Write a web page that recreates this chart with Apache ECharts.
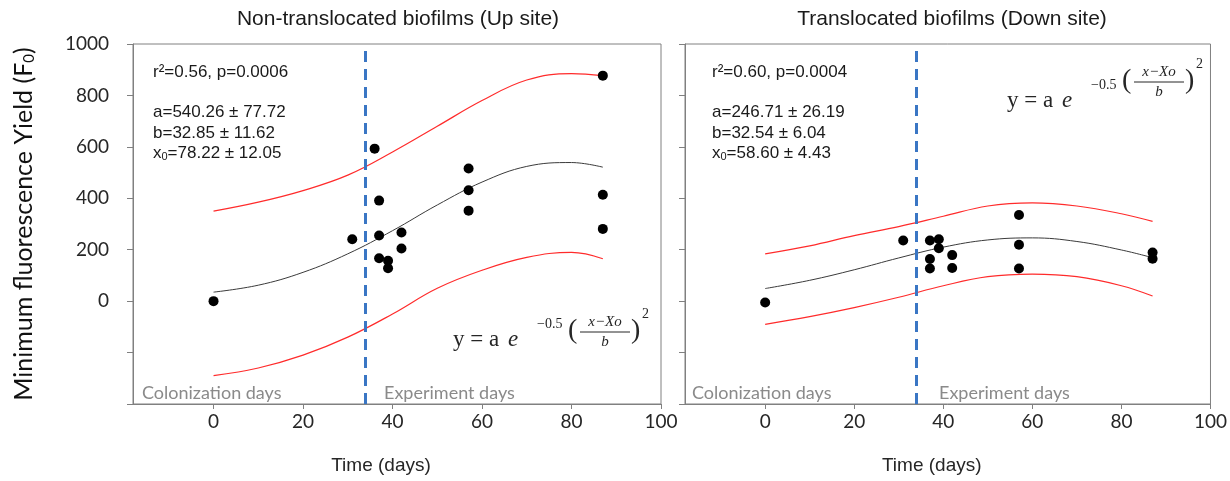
<!DOCTYPE html>
<html>
<head>
<meta charset="utf-8">
<script src="https://cdn.jsdelivr.net/npm/echarts@6/dist/echarts.min.js"></script>
<style>
  html, body { margin: 0; padding: 0; background: #fff; }
  #chart { width: 1230px; height: 481px; }
</style>
</head>
<body>
<div id="chart"></div>
<script>
// x tick labels (days) and the split between colonization / experiment
const dayTicks = [0, 20, 40, 60, 80, 100]
const splitDay = 34

// Up site (non-translocated) points
const upDays = [0, 31, 36, 37, 37, 37, 39, 39, 42, 42, 57, 57, 57, 87, 87, 87]
const upValues = [0, 241, 593, 391, 255, 167, 157, 128, 267, 205, 516, 431, 352, 877, 414, 281]

// Down site (translocated) points
const downDays = [0, 31, 37, 37, 37, 39, 39, 42, 42, 57, 57, 57, 87, 87]
const downValues = [-5, 236, 236, 164, 127, 241, 206, 179, 129, 335, 219, 127, 189, 165]

// curves (fit + band)
const curveDays = [0, 10, 20, 30, 40, 50, 60, 70, 80, 87]
const upFit = [35, 62, 112, 184, 274, 374, 463, 524, 539, 521]
const upUpper = [350, 385, 430, 490, 580, 680, 780, 860, 885, 877]
const upLower = [-290, -260, -210, -140, -50, 50, 120, 170, 190, 165]
const downFit = [49, 81, 122, 168, 210, 238, 246, 232, 199, 169]
const downUpper = [184, 215, 255, 290, 330, 370, 382, 370, 340, 310]
const downLower = [-90, -60, -25, 15, 60, 95, 105, 95, 60, 20]

const pairs = (xs, ys) => xs.map((x, i) => [x, ys[i]])

const chart = echarts.init(document.getElementById('chart'))

const gray = '#808080'
const red = '#ff2b2b'
const tickFont = 'Lato'

function xAxisFor(idx) {
  return {
    type: 'value',
    gridIndex: idx,
    min: -18,
    max: 100,
    axisLine: { show: true, onZero: false, lineStyle: { color: gray, width: 1 } },
    axisTick: { show: true, customValues: dayTicks, length: 5, lineStyle: { color: gray } },
    axisLabel: { customValues: dayTicks, fontFamily: tickFont, fontSize: 19, color: '#262626', margin: 8 },
    splitLine: { show: false },
    name: 'Time (days)',
    nameLocation: 'middle',
    nameGap: 52,
    nameTextStyle: { fontFamily: 'Liberation Sans', fontSize: 19, color: '#262626', padding: [0, 32, 0, 0] }
  }
}

function yAxisFor(idx) {
  const ax = {
    type: 'value',
    gridIndex: idx,
    min: -400,
    max: 1000,
    interval: 200,
    axisLine: { show: true, onZero: false, lineStyle: { color: gray, width: 1 } },
    axisTick: { show: true, length: 6, lineStyle: { color: gray } },
    axisLabel: {
      show: idx === 0,
      fontFamily: tickFont, fontSize: 19, color: '#262626', margin: 24,
      formatter: v => (v >= 0 ? String(v) : '')
    },
    splitLine: { show: false }
  }
  if (idx === 0) {
    ax.name = 'Minimum fluorescence Yield (F{sub|0})'
    ax.nameLocation = 'middle'
    ax.nameGap = 96
    ax.nameTextStyle = {
      fontFamily: tickFont, fontSize: 25, color: '#111',
      rich: { sub: { fontFamily: tickFont, fontSize: 15, color: '#111', verticalAlign: 'bottom', padding: [11, 0, 0, 0] } }
    }
  }
  return ax
}

function curve(idx, ys, color, width) {
  return {
    type: 'line',
    xAxisIndex: idx, yAxisIndex: idx,
    data: pairs(curveDays, ys),
    smooth: 0.4,
    showSymbol: false,
    lineStyle: { color: color, width: width },
    silent: true,
    z: 2
  }
}

function splitLine(idx) {
  return {
    type: 'line',
    xAxisIndex: idx, yAxisIndex: idx,
    data: [],
    markLine: {
      silent: true,
      symbol: ['none', 'none'],
      label: { show: false },
      lineStyle: { color: '#3a76c4', width: 3, type: [11, 7] },
      data: [{ xAxis: splitDay }]
    }
  }
}

function dots(idx, xs, ys) {
  return {
    type: 'scatter',
    xAxisIndex: idx, yAxisIndex: idx,
    data: pairs(xs, ys),
    symbolSize: 10,
    itemStyle: { color: '#000', opacity: 1 },
    z: 5
  }
}

// stats block text
function stats(x, r2, a, b, x0) {
  const base = { font: '17px "Liberation Sans"', fill: '#1a1a1a', verticalAlign: 'middle' }
  const rich = {
    n: { fontFamily: 'Liberation Sans', fontSize: 17, color: '#1a1a1a' },
    s: { fontFamily: 'Liberation Sans', fontSize: 11, color: '#1a1a1a', verticalAlign: 'bottom', padding: [7, 0, 0, 0] }
  }
  return [
    { type: 'text', x: x, y: 72, style: Object.assign({ text: r2 }, base) },
    { type: 'text', x: x, y: 112, style: Object.assign({ text: a }, base) },
    { type: 'text', x: x, y: 133, style: Object.assign({ text: b }, base) },
    { type: 'text', x: x, y: 153, style: Object.assign({ text: '{n|x}{s|0}{n|' + x0 + '}', rich: rich }, base) }
  ]
}

// y = a e^{-0.5((x-Xo)/b)^2}
function formula(ox, oy, fy) {
  const c = '#262626'
  const serif = '"Liberation Serif"'
  const bar = oy - 15 + fy
  return [
    { type: 'text', x: ox, y: oy - 7, style: { text: 'y = a', font: '23px ' + serif, fill: c, verticalAlign: 'middle' } },
    { type: 'text', x: ox + 55, y: oy - 7, style: { text: 'e', font: 'italic 23px ' + serif, fill: c, verticalAlign: 'middle' } },
    { type: 'text', x: ox + 84, y: oy - 23, style: { text: '\u22120.5', font: '14px ' + serif, fill: c, verticalAlign: 'middle' } },
    { type: 'text', x: ox + 115, y: bar - 1, style: { text: '(', font: '28px ' + serif, fill: c, verticalAlign: 'middle' } },
    { type: 'text', x: ox + 152, y: oy - 25 + fy, style: { text: 'x\u2212Xo', font: 'italic 15px ' + serif, fill: c, align: 'center', verticalAlign: 'middle' } },
    { type: 'line', shape: { x1: ox + 127, y1: bar, x2: ox + 177, y2: bar }, style: { stroke: c, lineWidth: 1 } },
    { type: 'text', x: ox + 152, y: oy - 5 + fy, style: { text: 'b', font: 'italic 15px ' + serif, fill: c, align: 'center', verticalAlign: 'middle' } },
    { type: 'text', x: ox + 178, y: bar - 1, style: { text: ')', font: '28px ' + serif, fill: c, verticalAlign: 'middle' } },
    { type: 'text', x: ox + 189, y: oy - 33 + fy, style: { text: '2', font: '14px ' + serif, fill: c, verticalAlign: 'middle' } }
  ]
}

function phase(x, text) {
  return { type: 'text', x: x, y: 393, style: { text: text, font: '18px Lato', fill: '#8a8a8a', verticalAlign: 'middle' } }
}

function title(x, text) {
  return { type: 'text', x: x, y: 19, style: { text: text, font: '21px "Liberation Sans"', fill: '#1a1a1a', align: 'center', verticalAlign: 'middle' } }
}

chart.setOption({
  animation: false,
  grid: [
    { left: 133, top: 44, right: 569, bottom: 77, show: true, borderColor: gray, borderWidth: 1 },
    { left: 685, top: 44, right: 12, bottom: 77, show: true, borderColor: gray, borderWidth: 1 }
  ],
  xAxis: [xAxisFor(0), xAxisFor(1)],
  yAxis: [yAxisFor(0), yAxisFor(1)],
  series: [
    splitLine(0),
    curve(0, upUpper, red, 1.2),
    curve(0, upLower, red, 1.2),
    curve(0, upFit, '#3a3a3a', 1),
    dots(0, upDays, upValues),
    splitLine(1),
    curve(1, downUpper, red, 1.2),
    curve(1, downLower, red, 1.2),
    curve(1, downFit, '#3a3a3a', 1),
    dots(1, downDays, downValues)
  ],
  graphic: [].concat(
    title(398, 'Non-translocated biofilms (Up site)'),
    title(952, 'Translocated biofilms (Down site)'),
    stats(153, 'r\u00b2=0.56, p=0.0006', 'a=540.26 \u00b1 77.72', 'b=32.85 \u00b1 11.62', '=78.22 \u00b1 12.05'),
    stats(712, 'r\u00b2=0.60, p=0.0004', 'a=246.71 \u00b1 26.19', 'b=32.54 \u00b1 6.04', '=58.60 \u00b1 4.43'),
    formula(453, 347, 0),
    formula(1007, 108, -11),
    phase(142, 'Colonization days'),
    phase(384, 'Experiment days'),
    phase(692, 'Colonization days'),
    phase(939, 'Experiment days')
  )
})
</script>
</body>
</html>
